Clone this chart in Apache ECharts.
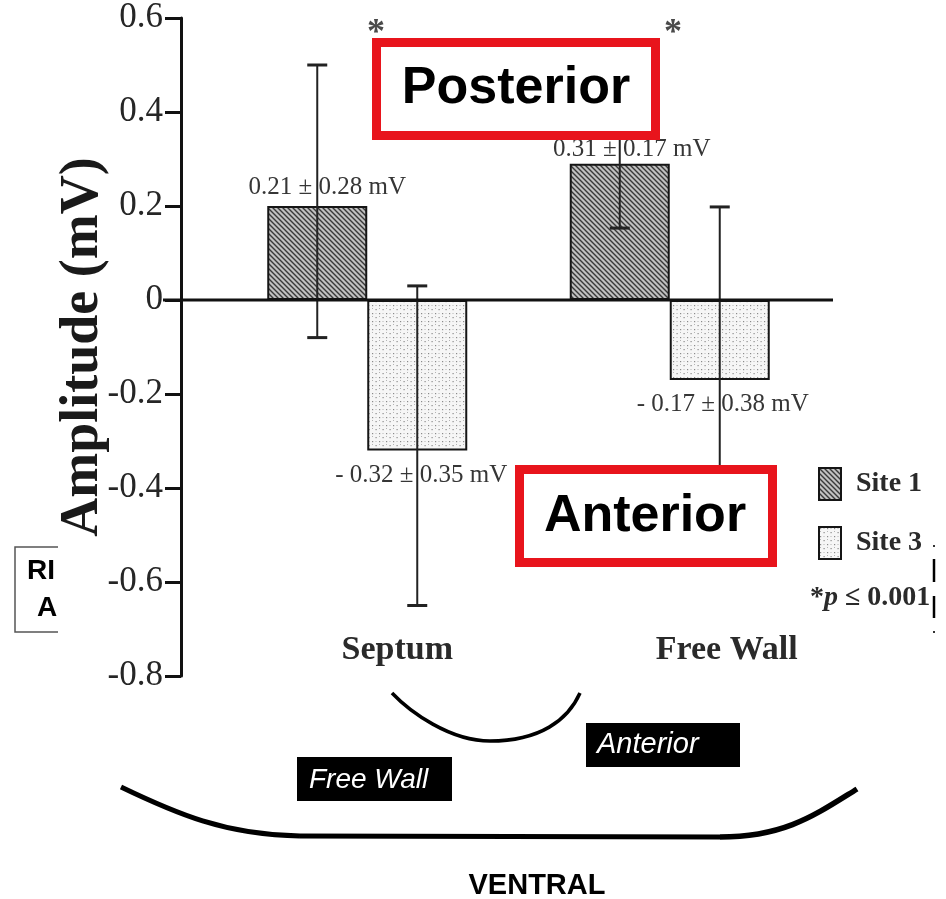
<!DOCTYPE html>
<html>
<head>
<meta charset="utf-8">
<script src="https://cdn.jsdelivr.net/npm/echarts@6/dist/echarts.min.js"></script>
<style>
html,body{margin:0;padding:0;background:#fff;}
#chart{width:946px;height:899px;}
</style>
</head>
<body>
<div id="chart"></div>
<script>
// ---- data ----
var categories = ['Septum', 'Free Wall'];
var seriesNames = ['Site 1', 'Site 3'];
var site1 = [0.20, 0.29];
var site3 = [-0.32, -0.17];
var site1Err = [[-0.08, 0.50], [0.153, 0.45]];
var site3Err = [[-0.65, 0.03], [-0.54, 0.198]];
var site1Labels = ['0.21 \u00b1 0.28 mV', '0.31 \u00b1 0.17 mV'];
var site3Labels = ['- 0.32 \u00b1 0.35 mV', '- 0.17 \u00b1 0.38 mV'];
var yMin = -0.8, yMax = 0.6, yStep = 0.2;
var yName = 'Amplitude (mV)';

var SERIF = "'Liberation Serif','Times New Roman',serif";
var SANS = "'Liberation Sans',Arial,sans-serif";

function hatchPattern() {
  var c = document.createElement('canvas');
  c.width = 5; c.height = 5;
  var g = c.getContext('2d');
  g.fillStyle = '#c0c0c0'; g.fillRect(0, 0, 5, 5);
  g.strokeStyle = '#383838'; g.lineWidth = 1.4;
  g.beginPath();
  g.moveTo(-1, -1); g.lineTo(6, 6);
  g.moveTo(-1, 4); g.lineTo(1, 6);
  g.moveTo(4, -1); g.lineTo(6, 1);
  g.stroke();
  return {image: c, repeat: 'repeat'};
}
function dotPattern() {
  var c = document.createElement('canvas');
  c.width = 7; c.height = 8;
  var g = c.getContext('2d');
  g.fillStyle = '#f6f6f6'; g.fillRect(0, 0, 7, 8);
  g.fillStyle = '#8a8a8a';
  g.fillRect(1, 1, 1.2, 1.2);
  g.fillRect(4.5, 5, 1.2, 1.2);
  g.fillStyle = '#b5b5b5';
  g.fillRect(1, 4, 1, 1);
  g.fillRect(4.5, 1, 1, 1);
  return {image: c, repeat: 'repeat'};
}

var labelBase = {show: true, fontFamily: SERIF, fontSize: 25, color: '#363636'};
var s1Data = site1.map(function (v, i) {
  var off = [[10, 0], [12, 0]][i];
  var dist = [6, 2][i];
  return {value: v, label: Object.assign({}, labelBase, {position: 'top', distance: dist, offset: off, formatter: site1Labels[i]})};
});
var s3Data = site3.map(function (v, i) {
  var off = [[4, 0], [3, 0]][i];
  var dist = [13, 12][i];
  return {value: v, label: Object.assign({}, labelBase, {position: 'bottom', distance: dist, offset: off, formatter: site3Labels[i]})};
});
var errData = [];
site1Err.forEach(function (e, i) { errData.push([i, 0, e[0], e[1]]); });
site3Err.forEach(function (e, i) { errData.push([i, 1, e[0], e[1]]); });

var BAR_W = 100;
var chart = echarts.init(document.getElementById('chart'), null, {renderer: 'canvas'});
var option = {
  backgroundColor: '#fff',
  animation: false,
  grid: {left: 216, right: 125, top: 18, height: 658},
  legend: {
    data: seriesNames, orient: 'vertical', left: 813, top: 462,
    itemWidth: 22, itemHeight: 32, itemGap: 25, selectedMode: false,
    icon: 'rect',
    textStyle: {fontFamily: SERIF, fontSize: 28, fontWeight: 'bold', color: '#2a2a2a', padding: [0, 0, 0, 10]}
  },
  xAxis: {
    type: 'category',
    data: [
      {value: categories[0], textStyle: {padding: [0, 0, 0, 60]}},
      {value: categories[1], textStyle: {padding: [0, 0, 0, 114]}}
    ],
    position: 'bottom',
    axisLine: {show: false, onZero: false},
    axisTick: {show: false},
    splitLine: {show: false},
    axisLabel: {inside: true, margin: 9, fontFamily: SERIF, fontSize: 34, fontWeight: 'bold', color: '#2a2a2a'}
  },
  yAxis: {
    type: 'value', min: yMin, max: yMax, interval: yStep,
    offset: 35,
    name: yName, nameLocation: 'middle', nameGap: 71, nameMoveOverlap: false,
    nameTextStyle: {fontFamily: SERIF, fontSize: 54, fontWeight: 'bold', color: '#1a1a1a'},
    axisLine: {show: true, lineStyle: {color: '#111', width: 3}},
    axisTick: {show: true, length: 16, lineStyle: {color: '#111', width: 3}},
    splitLine: {show: false},
    axisLabel: {
      margin: 18, fontFamily: SERIF, fontSize: 35, color: '#262626',
      formatter: function (v) { return Math.abs(v) < 1e-9 ? '0' : v.toFixed(1); }
    }
  },
  series: [
    {name: seriesNames[0], type: 'bar', data: s1Data, barWidth: BAR_W, barGap: '0%',
     itemStyle: {color: hatchPattern(), borderColor: '#151515', borderWidth: 2}},
    {name: seriesNames[1], type: 'bar', data: s3Data, barWidth: BAR_W, barGap: '0%',
     itemStyle: {color: dotPattern(), borderColor: '#151515', borderWidth: 2}},
    {
      type: 'custom', z: 5, data: errData,
      encode: {x: 0, y: [2, 3]},
      renderItem: function (params, api) {
        var c = api.value(0), s = api.value(1);
        var lo = api.coord([c, api.value(2)]);
        var hi = api.coord([c, api.value(3)]);
        var x = lo[0] + (s === 0 ? -BAR_W / 2 : BAR_W / 2);
        var cap = 10;
        var st = {stroke: '#222', lineWidth: 2};
        return {type: 'group', children: [
          {type: 'line', shape: {x1: x, y1: lo[1], x2: x, y2: hi[1]}, style: st},
          {type: 'line', shape: {x1: x - cap, y1: lo[1], x2: x + cap, y2: lo[1]}, style: {stroke: '#222', lineWidth: 3}},
          {type: 'line', shape: {x1: x - cap, y1: hi[1], x2: x + cap, y2: hi[1]}, style: {stroke: '#222', lineWidth: 3}}
        ]};
      }
    }
  ]
};
chart.setOption(option);

var y0 = chart.convertToPixel({yAxisIndex: 0}, 0);
var Z = 100;
function boxText(txt, cx, cy, size) {
  return {type: 'text', z: Z + 1, style: {text: txt, x: cx, y: cy, align: 'center', verticalAlign: 'middle',
    font: 'bold ' + size + 'px ' + SANS, fill: '#000'}};
}
var graphics = [
  {type: 'line', z: 50, shape: {x1: 163, y1: y0, x2: 833, y2: y0}, style: {stroke: '#111', lineWidth: 3}},
  {type: 'text', z: Z, style: {text: '*', x: 376, y: 34, align: 'center', verticalAlign: 'middle', font: 'bold 36px ' + SERIF, fill: '#4a4a4a'}},
  {type: 'text', z: Z, style: {text: '*', x: 673, y: 34, align: 'center', verticalAlign: 'middle', font: 'bold 36px ' + SERIF, fill: '#4a4a4a'}},
  {type: 'rect', z: Z, shape: {x: 376.5, y: 42.5, width: 279, height: 93}, style: {fill: '#fff', stroke: '#e8141c', lineWidth: 9}},
  boxText('Posterior', 516, 89, 52),
  {type: 'rect', z: Z, shape: {x: 519.5, y: 469.5, width: 253, height: 93}, style: {fill: '#fff', stroke: '#e8141c', lineWidth: 9}},
  boxText('Anterior', 645, 517, 52),
  {type: 'text', z: Z, style: {text: '{a|*}{b|p}{a| \u2264 0.001}', x: 810, y: 598, verticalAlign: 'middle',
    rich: {a: {fontFamily: SERIF, fontSize: 28, fontWeight: 'bold', fill: '#2a2a2a'},
           b: {fontFamily: SERIF, fontSize: 28, fontWeight: 'bold', fontStyle: 'italic', fill: '#2a2a2a'}}}},
  // left partial box
  {type: 'polyline', z: Z, shape: {points: [[58, 547], [15, 547], [15, 632], [58, 632]]}, style: {fill: null, stroke: '#555', lineWidth: 1.5}},
  {type: 'text', z: Z, style: {text: 'RI', x: 27, y: 571, verticalAlign: 'middle', font: 'bold 28px ' + SANS, fill: '#000'}},
  {type: 'text', z: Z, style: {text: 'A', x: 37, y: 608, verticalAlign: 'middle', font: 'bold 28px ' + SANS, fill: '#000'}},
  // right partial marks
  {type: 'rect', z: Z, shape: {x: 933, y: 545, width: 2, height: 2}, style: {fill: '#333'}},
  {type: 'line', z: Z, shape: {x1: 934, y1: 559, x2: 934, y2: 582}, style: {stroke: '#000', lineWidth: 2.5}},
  {type: 'line', z: Z, shape: {x1: 934, y1: 596, x2: 934, y2: 618}, style: {stroke: '#000', lineWidth: 2.5}},
  {type: 'rect', z: Z, shape: {x: 933, y: 631, width: 2, height: 2}, style: {fill: '#333'}},
  // bottom drawing
  {type: 'bezierCurve', z: Z, shape: {x1: 392, y1: 693, cpx1: 410, cpy1: 712, cpx2: 450, cpy2: 741, x2: 490, y2: 741}, style: {fill: null, stroke: '#000', lineWidth: 3.5}},
  {type: 'bezierCurve', z: Z, shape: {x1: 490, y1: 741, cpx1: 540, cpy1: 741, cpx2: 568, cpy2: 720, x2: 580, y2: 693}, style: {fill: null, stroke: '#000', lineWidth: 3.5}},
  {type: 'bezierCurve', z: Z, shape: {x1: 121, y1: 787, cpx1: 175, cpy1: 813, cpx2: 225, cpy2: 835, x2: 300, y2: 836}, style: {fill: null, stroke: '#000', lineWidth: 5}},
  {type: 'line', z: Z, shape: {x1: 300, y1: 836, x2: 720, y2: 837}, style: {stroke: '#000', lineWidth: 5}},
  {type: 'bezierCurve', z: Z, shape: {x1: 720, y1: 837, cpx1: 785, cpy1: 837, cpx2: 815, cpy2: 815, x2: 857, y2: 789}, style: {fill: null, stroke: '#000', lineWidth: 5.5}},
  {type: 'rect', z: Z, shape: {x: 297, y: 757, width: 155, height: 44}, style: {fill: '#000'}},
  {type: 'text', z: Z + 1, style: {text: 'Free Wall', x: 309, y: 780, verticalAlign: 'middle', font: 'italic 28px ' + SANS, fill: '#fff'}},
  {type: 'rect', z: Z, shape: {x: 586, y: 723, width: 154, height: 44}, style: {fill: '#000'}},
  {type: 'text', z: Z + 1, style: {text: 'Anterior', x: 597, y: 745, verticalAlign: 'middle', font: 'italic 29px ' + SANS, fill: '#fff'}},
  {type: 'text', z: Z, style: {text: 'VENTRAL', x: 537, y: 886, align: 'center', verticalAlign: 'middle', font: 'bold 29px ' + SANS, fill: '#000'}}
];
chart.setOption({graphic: graphics});
</script>
</body>
</html>
